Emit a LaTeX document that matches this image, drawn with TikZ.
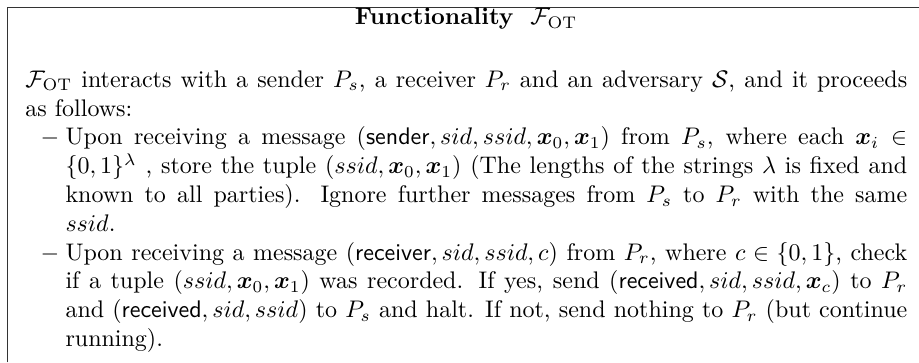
\documentclass[tikz,border=0pt]{standalone}
\usepackage{amsmath}
\usepackage{amssymb}
\usepackage{bm}
\usepackage{enumitem}
\usepackage{xcolor}
\usepackage{tikz}

\setlength{\parindent}{0pt}
\newcommand{\bx}[1]{\bm{x}_{#1}}

\begin{document}
\begin{tikzpicture}[x=1pt, y=1pt,
    frameline/.style={black!80, line width=0.5pt},
    bodytext/.style={anchor=north west, inner sep=0pt, text width=367.5pt, align=justify}]
    % Page
    \useasboundingbox (0, 0) rectangle (383, -151);

    % Frame (top and left edges)
    \coordinate (fbl) at (3.1, -151);
    \coordinate (ftl) at (3.1, -3.1);
    \coordinate (ftr) at (383, -3.1);
    \draw[frameline] (fbl) -- (ftl) -- (ftr);

    % Title
    \node[anchor=base, inner sep=0pt] (title) at (194.2, -10.2)
        {\textbf{Functionality}\hspace{0.7em}$\mathcal{F}_{\mathrm{OT}}$};

    % Body
    \node[bodytext] (body) at (10.4, -27.8) {%
        \strut$\mathcal{F}_{\mathrm{OT}}$ interacts with a sender $P_s$, a receiver $P_r$ and an adversary $\mathcal{S}$, and it proceeds as follows:
        \begin{itemize}[nosep, leftmargin=16.7pt, labelsep=2.6pt, label=$-$]
            \item Upon receiving a message $(\textsf{sender}, sid, ssid, \bx{0}, \bx{1})$ from $P_s$, where each $\bx{i} \in \{0,1\}^{\lambda}$ , store the tuple $(ssid, \bx{0}, \bx{1})$ (The lengths of the strings $\lambda$ is fixed and known to all parties). Ignore further messages from $P_s$ to $P_r$ with the same\linebreak $ssid$.
            \item Upon receiving a message $(\textsf{receiver}, sid, ssid, c)$ from $P_r$, where $c \in \{0,1\}$, check if a tuple $(ssid, \bx{0}, \bx{1})$ was recorded. If yes, send $(\textsf{received}, sid, ssid, \bx{c})$ to $P_r$ and $(\textsf{received}, sid, ssid)$ to $P_s$ and halt. If not, send nothing to $P_r$ (but continue running).
        \end{itemize}};
\end{tikzpicture}
\end{document}
